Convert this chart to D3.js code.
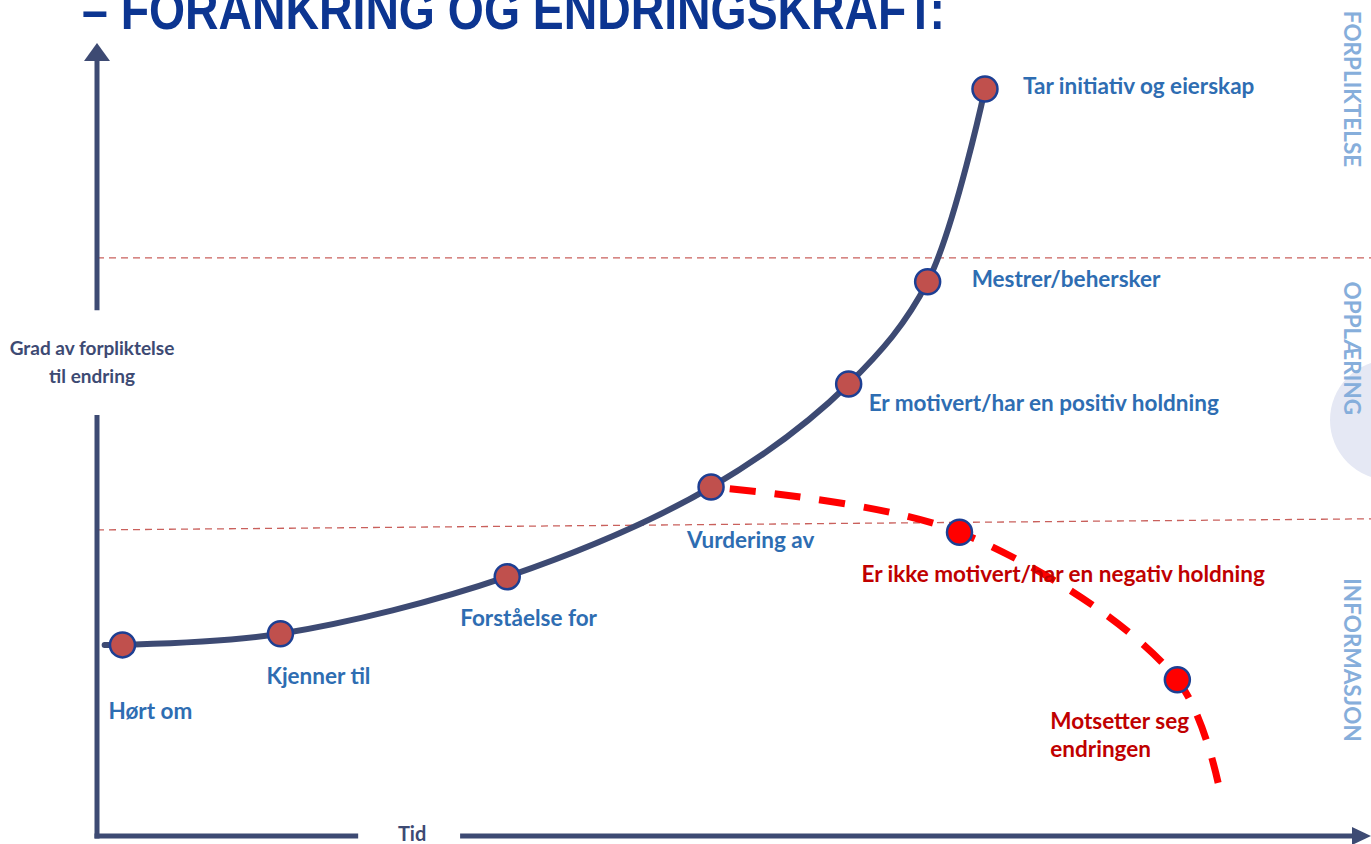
<!DOCTYPE html>
<html lang="no">
<head>
<meta charset="utf-8">
<title>Forankring og endringskraft</title>
<script src="https://cdn.jsdelivr.net/npm/d3@7/dist/d3.min.js"></script>
<style>
  html, body { margin: 0; padding: 0; background: #ffffff; overflow: hidden; }
  svg { display: block; }
  text { font-family: Lato, "Open Sans", sans-serif; font-weight: 700; }
</style>
</head>
<body>
<svg id="chart" width="1371" height="844"></svg>
<script>
// ---- Data ---------------------------------------------------------------
// Stages of the commitment curve (time 0–100, commitment 0–100)
const stages = [
  "Hørt om",
  "Kjenner til",
  "Forståelse for",
  "Vurdering av",
  "Er motivert/har en positiv holdning",
  "Mestrer/behersker",
  "Tar initiativ og eierskap"
];
const stageTime       = [2.0, 14.4, 32.2, 48.2, 59.0, 65.2, 69.7];
const stageCommitment = [24.1, 25.5, 32.7, 44.0, 57.0, 69.9, 94.2];

// The curve begins just before the first stage
const curveStartTime = 0.6;
const curveStartCommitment = 24.1;

// Negative branch, leaving the curve at "Vurdering av"
const negativeStages     = ["Er ikke motivert/har en negativ holdning", "Motsetter seg\nendringen"];
const negativeTime       = [67.7, 84.8];
const negativeCommitment = [38.3, 19.7];
const negativeEndTime = 88.2;
const negativeEndCommitment = 5.2;

// Zone boundaries (commitment level at left and right edge)
const zoneBoundaryLeft  = [38.6, 72.9];
const zoneBoundaryRight = [40.0, 72.9];

// Zone names, bottom to top, with the commitment level of their centre
const zoneNames = ["INFORMASJON", "OPPLÆRING", "FORPLIKTELSE"];
const zoneLabelCenter = [22.2, 61.5, 94.2];

const title = "– FORANKRING OG ENDRINGSKRAFT:";
const yTitle = ["Grad av forpliktelse", "til endring"];
const xTitle = "Tid";

// ---- Layout -------------------------------------------------------------
const W = 1371, H = 844;
const svg = d3.select("#chart");

const x = d3.scaleLinear().domain([0, 100]).range([97, 1371]);
const y = d3.scaleLinear().domain([0, 100]).range([836, 43]);

const navy = "#3d4a73";
const labelBlue = "#2e6db2";
const labelRed = "#c00000";
const zoneBlue = "#86aedb";
const dotFill = "#c0504d";
const dotStroke = "#1d3f93";
const labelSize = "22.5px";

// Soft disc behind the middle zone label
svg.append("circle")
  .attr("cx", 1390).attr("cy", 420).attr("r", 60)
  .attr("fill", "#e5e8f4");

// Title, clipped by the top edge
svg.append("text")
  .attr("x", 82).attr("y", 29)
  .attr("textLength", 863).attr("lengthAdjust", "spacingAndGlyphs")
  .style("font-family", "'Liberation Sans Narrow', 'Liberation Sans', Arial, sans-serif")
  .style("font-size", "56px").style("font-weight", 700)
  .attr("fill", "#0c3591")
  .text(title);

// Zone boundaries
svg.selectAll("line.zone")
  .data(zoneBoundaryLeft)
  .join("line")
  .attr("class", "zone")
  .attr("x1", x(0)).attr("x2", x(100))
  .attr("y1", d => y(d))
  .attr("y2", (d, i) => y(zoneBoundaryRight[i]))
  .attr("stroke", "#c9605c").attr("stroke-width", 1.3)
  .attr("stroke-dasharray", "7 5");

// Zone names, vertical on the right
svg.selectAll("text.zoneName")
  .data(zoneNames)
  .join("text")
  .attr("class", "zoneName")
  .attr("transform", (d, i) => `translate(1344, ${y(zoneLabelCenter[i])}) rotate(90)`)
  .attr("text-anchor", "middle")
  .style("font-size", "22.5px")
  .attr("fill", zoneBlue)
  .text(d => d);

// ---- Axes ---------------------------------------------------------------
const axisW = 5;
// vertical axis, broken around its title
const yBreakLow = 53.1, yBreakHigh = 66.3;
svg.append("line")
  .attr("x1", x(0)).attr("x2", x(0))
  .attr("y1", y(0) + axisW / 2).attr("y2", y(yBreakLow))
  .attr("stroke", navy).attr("stroke-width", axisW);
svg.append("line")
  .attr("x1", x(0)).attr("x2", x(0))
  .attr("y1", y(yBreakHigh)).attr("y2", y(100) + 14)
  .attr("stroke", navy).attr("stroke-width", axisW);
svg.append("path")
  .attr("d", `M${x(0)},${y(100)} L${x(0) + 13},${y(100) + 18} L${x(0) - 13},${y(100) + 18} Z`)
  .attr("fill", navy);

// horizontal axis, broken around its title
const xBreakLow = 20.5, xBreakHigh = 28.5;
svg.append("line")
  .attr("x1", x(0) - axisW / 2).attr("x2", x(xBreakLow))
  .attr("y1", y(0)).attr("y2", y(0))
  .attr("stroke", navy).attr("stroke-width", axisW);
svg.append("line")
  .attr("x1", x(xBreakHigh)).attr("x2", x(100) - 14)
  .attr("y1", y(0)).attr("y2", y(0))
  .attr("stroke", navy).attr("stroke-width", axisW);
svg.append("path")
  .attr("d", `M${x(100)},${y(0)} L${x(100) - 19},${y(0) - 9} L${x(100) - 19},${y(0) + 9} Z`)
  .attr("fill", navy);

// axis titles
svg.append("text")
  .attr("x", (x(xBreakLow) + x(xBreakHigh)) / 2 + 3).attr("y", y(0) + 5)
  .attr("text-anchor", "middle")
  .style("font-size", "20px").attr("fill", navy)
  .text(xTitle);

svg.selectAll("text.ytitle")
  .data(yTitle)
  .join("text")
  .attr("class", "ytitle")
  .attr("x", 92)
  .attr("y", (d, i) => 355 + i * 28)
  .attr("text-anchor", "middle")
  .style("font-size", "19px").attr("fill", navy)
  .text(d => d);

// ---- Curves -------------------------------------------------------------
const mainPts = [[curveStartTime, curveStartCommitment]]
  .concat(stageTime.map((t, i) => [t, stageCommitment[i]]));
const line = d3.line()
  .x(d => x(d[0])).y(d => y(d[1]))
  .curve(d3.curveCatmullRom.alpha(0.5));

svg.append("path")
  .attr("d", line(mainPts))
  .attr("fill", "none").attr("stroke", navy)
  .attr("stroke-width", 6).attr("stroke-linecap", "round");

const branchStart = 3;
const negPts = [[stageTime[branchStart], stageCommitment[branchStart]]]
  .concat(negativeTime.map((t, i) => [t, negativeCommitment[i]]))
  .concat([[negativeEndTime, negativeEndCommitment]]);

svg.append("path")
  .attr("d", line(negPts))
  .attr("fill", "none").attr("stroke", "#ff0000")
  .attr("stroke-width", 7)
  .attr("stroke-dasharray", "26 19")
  .attr("stroke-dashoffset", 26);

// ---- Markers and labels -------------------------------------------------
const stageLabelOffset = [[-14, 74], [-14, 50], [-47, 49], [-24, 61], [20, 27], [44, 5], [38, 5]];
const negLabelOffset = [[-98, 50], [-127, 49]];

svg.selectAll("circle.stage")
  .data(stages)
  .join("circle")
  .attr("class", "stage")
  .attr("cx", (d, i) => x(stageTime[i]))
  .attr("cy", (d, i) => y(stageCommitment[i]))
  .attr("r", 12.5)
  .attr("fill", dotFill).attr("stroke", dotStroke).attr("stroke-width", 2.5);

svg.selectAll("circle.neg")
  .data(negativeStages)
  .join("circle")
  .attr("class", "neg")
  .attr("cx", (d, i) => x(negativeTime[i]))
  .attr("cy", (d, i) => y(negativeCommitment[i]))
  .attr("r", 12.5)
  .attr("fill", "#ff0000").attr("stroke", dotStroke).attr("stroke-width", 2.5);

svg.selectAll("text.stage")
  .data(stages)
  .join("text")
  .attr("class", "stage")
  .attr("x", (d, i) => x(stageTime[i]) + stageLabelOffset[i][0])
  .attr("y", (d, i) => y(stageCommitment[i]) + stageLabelOffset[i][1])
  .style("font-size", labelSize).attr("fill", labelBlue)
  .text(d => d);

svg.selectAll("text.neg")
  .data(negativeStages)
  .join("text")
  .attr("class", "neg")
  .attr("x", (d, i) => x(negativeTime[i]) + negLabelOffset[i][0])
  .attr("y", (d, i) => y(negativeCommitment[i]) + negLabelOffset[i][1])
  .style("font-size", labelSize).attr("fill", labelRed)
  .each(function (d, i) {
    const t = d3.select(this);
    const x0 = +t.attr("x");
    d.split("\n").forEach((part, k) => {
      t.append("tspan").attr("x", x0).attr("dy", k === 0 ? 0 : 28).text(part);
    });
  });
</script>
</body>
</html>
